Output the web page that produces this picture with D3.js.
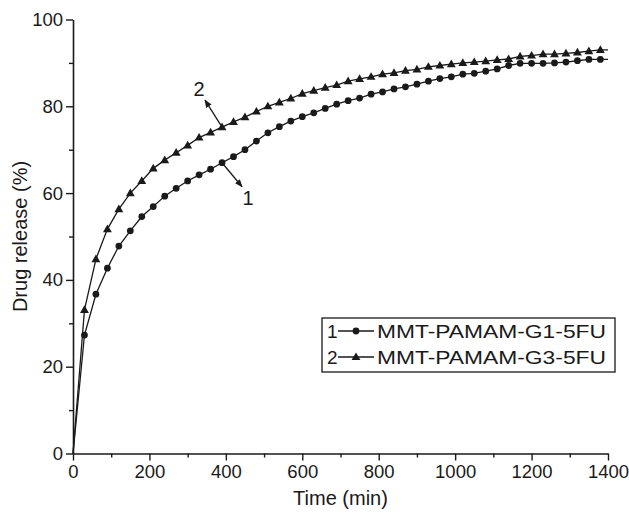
<!DOCTYPE html>
<html>
<head>
<meta charset="utf-8">
<script src="https://cdn.jsdelivr.net/npm/d3@7"></script>
<style>
  html, body { margin: 0; padding: 0; background: #fff; }
  svg { display: block; }
  text { font-family: "Liberation Sans", Arial, sans-serif; fill: #1a1a1a; }
</style>
</head>
<body>
<svg id="chart" width="629" height="521"></svg>
<script>
// Sampling times (min): every 30 min up to 1380, plus the final reading at 1400
const times = d3.range(0, 1381, 30).concat([1400]);

// Cumulative release (%) for each formulation
const releaseG1 = [
  0, 27.3, 36.7, 42.7, 47.8, 51.3, 54.6, 56.9, 59.3, 61.1,
  62.8, 64.2, 65.5, 67.0, 68.4, 70.0, 72.0, 73.9, 75.3, 76.6,
  77.6, 78.5, 79.5, 80.5, 81.3, 81.9, 82.8, 83.3, 84.0, 84.5,
  85.1, 85.8, 86.4, 86.8, 87.4, 87.6, 88.1, 88.6, 89.4, 89.9,
  89.9, 89.9, 90.0, 90.2, 90.5, 90.8, 90.8, 90.8
];
const releaseG3 = [
  0, 33.1, 44.8, 51.7, 56.3, 60.0, 62.8, 65.7, 67.6, 69.3,
  71.0, 72.8, 74.0, 75.2, 76.4, 77.5, 78.8, 80.0, 80.9, 81.8,
  82.9, 83.6, 84.3, 84.9, 85.8, 86.3, 86.8, 87.4, 87.7, 88.2,
  88.5, 89.1, 89.4, 89.7, 90.0, 90.2, 90.4, 90.7, 90.9, 91.5,
  91.7, 92.0, 92.0, 92.2, 92.4, 92.7, 93.0, 93.0
];

const seriesNames = ["MMT-PAMAM-G1-5FU", "MMT-PAMAM-G3-5FU"];
const xTicks = [0, 200, 400, 600, 800, 1000, 1200, 1400];
const yTicks = [0, 20, 40, 60, 80, 100];

const ink = "#1a1a1a";
const svg = d3.select("#chart");

const x = d3.scaleLinear().domain([0, 1400]).range([73, 608]);
const y = d3.scaleLinear().domain([0, 100]).range([453.5, 19.5]);

// Axes: major and minor ticks pointing outward
const gx = svg.append("g").attr("transform", `translate(0,${y(0)})`);
gx.call(d3.axisBottom(x).tickValues(d3.range(100, 1400, 200)).tickSize(4).tickFormat(""));
gx.call(g => g.select(".domain").remove());
const gxMaj = svg.append("g").attr("transform", `translate(0,${y(0)})`);
gxMaj.call(d3.axisBottom(x).tickValues(xTicks).tickSize(7).tickSizeOuter(0).tickPadding(4).tickFormat(d3.format("d")));

const gy = svg.append("g").attr("transform", `translate(${x(0)},0)`);
gy.call(d3.axisLeft(y).tickValues(d3.range(10, 100, 20)).tickSize(4).tickFormat(""));
gy.call(g => g.select(".domain").remove());
const gyMaj = svg.append("g").attr("transform", `translate(${x(0)},0)`);
gyMaj.call(d3.axisLeft(y).tickValues(yTicks).tickSize(7).tickSizeOuter(0).tickPadding(3).tickFormat(d3.format("d")));

svg.selectAll(".domain").attr("stroke", ink).attr("stroke-width", 1.6);
svg.selectAll(".tick line").attr("stroke", ink).attr("stroke-width", 1.4);
svg.selectAll(".tick text")
  .attr("font-size", 18.5)
  .attr("font-family", "'Liberation Sans', Arial, sans-serif")
  .attr("fill", ink);

// Axis titles
svg.append("text")
  .attr("x", (x(0) + x(1400)) / 2).attr("y", 505)
  .attr("text-anchor", "middle").attr("font-size", 20)
  .text("Time (min)");
svg.append("text")
  .attr("transform", `translate(27,${(y(0) + y(100)) / 2}) rotate(-90)`)
  .attr("text-anchor", "middle").attr("font-size", 20)
  .text("Drug release (%)");

// Curves
const line = d3.line().x(d => x(d[0])).y(d => y(d[1]));
const g1 = times.map((t, i) => [t, releaseG1[i]]);
const g3 = times.map((t, i) => [t, releaseG3[i]]);
const markedPts = pts => pts.filter((d, i) => i > 0 && i < pts.length - 1);

[g1, g3].forEach(pts => {
  svg.append("path").datum(pts)
    .attr("d", line).attr("fill", "none")
    .attr("stroke", ink).attr("stroke-width", 1.3);
});

const circleSym = d3.symbol().type(d3.symbolCircle).size(36);
const triSym = d3.symbol().type(d3.symbolTriangle).size(34);

svg.append("g").selectAll("path").data(markedPts(g1)).join("path")
  .attr("transform", d => `translate(${x(d[0])},${y(d[1])})`)
  .attr("d", circleSym).attr("fill", ink);
svg.append("g").selectAll("path").data(markedPts(g3)).join("path")
  .attr("transform", d => `translate(${x(d[0])},${y(d[1]) + 0.5})`)
  .attr("d", triSym).attr("fill", ink);

// Curve labels with arrows
const defs = svg.append("defs");
defs.append("marker")
  .attr("id", "head").attr("viewBox", "0 0 10 10")
  .attr("refX", 9).attr("refY", 5)
  .attr("markerWidth", 8).attr("markerHeight", 8)
  .attr("markerUnits", "userSpaceOnUse")
  .attr("orient", "auto")
  .append("path").attr("d", "M0,1 L10,5 L0,9 Z").attr("fill", ink);

const annot = [
  { label: "2", t: 390, v: releaseG3[times.indexOf(390)], dx: -17, dy: -27, lx: -23, ly: -31 },
  { label: "1", t: 390, v: releaseG1[times.indexOf(390)], dx: 20, dy: 24, lx: 26, ly: 42 }
];
annot.forEach(a => {
  const px = x(a.t), py = y(a.v);
  svg.append("line")
    .attr("x1", px).attr("y1", py)
    .attr("x2", px + a.dx).attr("y2", py + a.dy)
    .attr("stroke", ink).attr("stroke-width", 1.3)
    .attr("marker-end", "url(#head)");
  svg.append("text")
    .attr("x", px + a.lx).attr("y", py + a.ly)
    .attr("text-anchor", "middle").attr("font-size", 20)
    .text(a.label);
});

// Legend
const legend = svg.append("g");
legend.append("rect")
  .attr("x", 322).attr("y", 318).attr("width", 293).attr("height", 54)
  .attr("fill", "#fff").attr("stroke", ink).attr("stroke-width", 1.3);
const symbols = [circleSym, triSym];
seriesNames.forEach((name, i) => {
  const cy = 331 + i * 26;
  legend.append("text").attr("x", 327).attr("y", cy + 7)
    .attr("font-size", 19).text(String(i + 1));
  legend.append("line").attr("x1", 338).attr("x2", 374)
    .attr("y1", cy).attr("y2", cy)
    .attr("stroke", ink).attr("stroke-width", 1.3);
  legend.append("path").attr("transform", `translate(356,${cy + (i ? 0.5 : 0)})`)
    .attr("d", symbols[i]).attr("fill", ink);
  legend.append("text").attr("x", 377).attr("y", cy + 7)
    .attr("font-size", 19).attr("textLength", 229).attr("lengthAdjust", "spacingAndGlyphs")
    .text(name);
});
</script>
</body>
</html>
